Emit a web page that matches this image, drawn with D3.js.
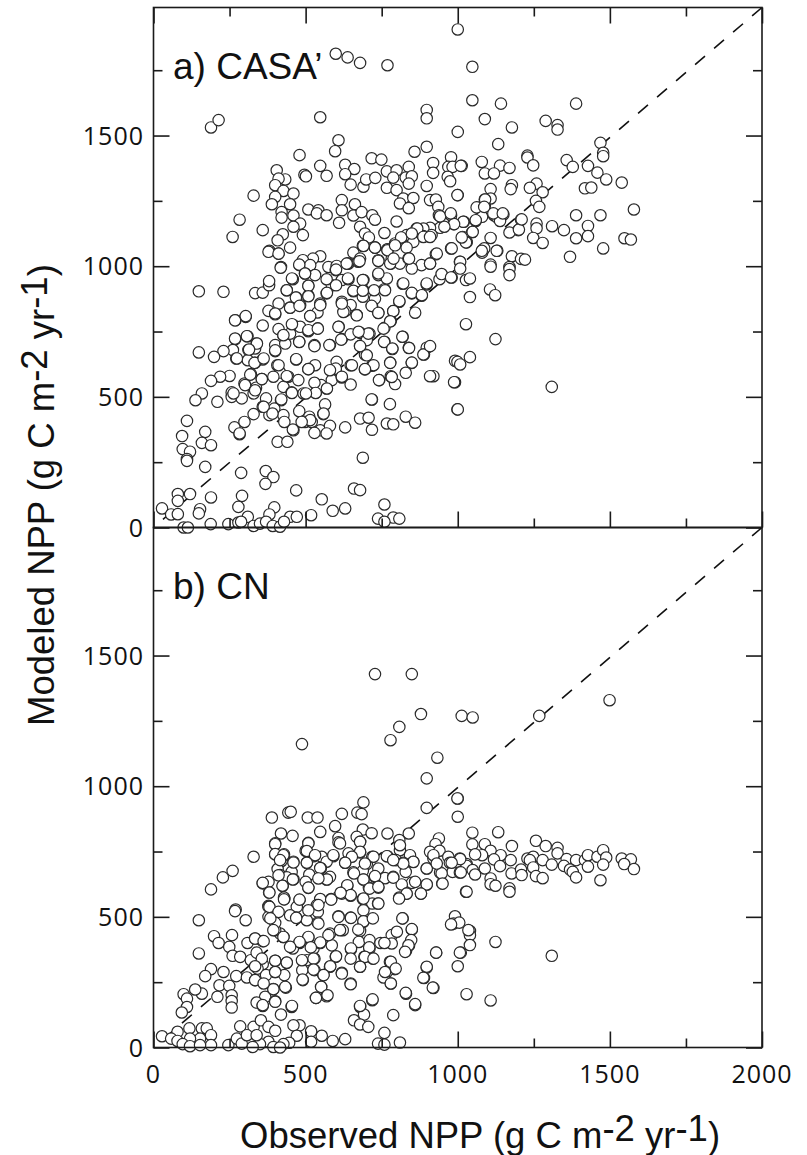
<!DOCTYPE html>
<html>
<head>
<meta charset="utf-8">
<script src="https://cdnjs.cloudflare.com/ajax/libs/d3/7.8.5/d3.min.js"></script>
<style>
  html, body { margin: 0; padding: 0; background: #fff; }
</style>
</head>
<body>
<script>
// tick values, shared by both panels
const majorX = [0, 500, 1000, 1500, 2000];
const minorX = [250, 750, 1250, 1750];
const majorY = [0, 500, 1000, 1500];
const minorY = [250, 750, 1250, 1750];

// panel a, [observed, modeled] in quarters
const casaTopLeft = [[1000,1906],[599,1813],[638,1799],[679,1778],[769,1769],[189,1531],[214,1559],[548,1570],[898,1598],[898,1566],[1000,1514],[608,1482],[597,1440],[898,1457],[858,1438],[480,1425],[717,1413],[749,1408],[978,1417],[919,1395],[405,1367],[548,1384],[630,1388],[660,1372],[630,1352],[569,1346],[496,1350],[501,1344],[433,1332],[411,1335],[400,1310],[648,1312],[690,1304],[699,1332],[729,1338],[767,1363],[799,1367],[839,1380],[788,1339],[829,1339],[849,1344],[839,1316],[767,1300],[799,1291],[919,1357],[969,1380],[983,1380],[1013,1384],[967,1342],[975,1325],[898,1307],[427,1288],[460,1278],[329,1270],[400,1265],[389,1237],[449,1237],[619,1253],[662,1237],[619,1214],[821,1259],[854,1261],[810,1240],[839,1222],[909,1253],[928,1255],[1000,1272],[421,1207],[421,1186],[460,1194],[509,1217],[542,1214],[537,1202],[569,1195],[657,1194],[684,1207],[719,1195],[728,1178],[610,1166],[799,1171],[283,1178],[482,1163],[359,1138],[460,1151],[260,1112],[491,1119],[425,1122],[408,1099],[679,1151],[695,1125],[708,1110],[759,1127],[936,1227],[938,1195],[978,1195],[987,1161],[1020,1170],[942,1147],[909,1147],[887,1144],[887,1115],[914,1119],[865,1144],[850,1125],[816,1110],[832,1119],[794,1087],[854,1093],[690,1077],[729,1071],[769,1065],[832,1071],[978,1068],[449,1071],[381,1059],[411,1048],[548,1038],[524,1029],[491,1023],[657,1052],[679,1029],[739,1023],[783,1029],[839,1029],[928,1046],[1007,1017],[1016,1112],[1029,1093],[419,997],[480,1004],[515,1004],[575,997],[602,1001],[641,1010],[673,1017],[780,1010],[810,1010],[881,1004],[909,1010]];
const casaTopRight = [[1048,1763],[1048,1635],[1142,1622],[1389,1622],[1089,1563],[1178,1531],[1289,1556],[1328,1540],[1328,1523],[1133,1467],[1469,1472],[1478,1434],[1478,1421],[1229,1423],[1229,1416],[1358,1406],[1378,1380],[1428,1384],[1248,1386],[1079,1399],[1139,1385],[1170,1376],[1089,1355],[1119,1355],[1010,1384],[1459,1358],[1488,1332],[1539,1320],[1259,1316],[1237,1300],[1279,1283],[1178,1310],[1174,1295],[1108,1295],[1418,1298],[1439,1301],[999,1272],[1108,1259],[1089,1255],[1089,1231],[1069,1223],[1257,1250],[1268,1227],[1579,1217],[1389,1195],[1469,1195],[1119,1195],[1150,1198],[1130,1186],[1139,1173],[1208,1178],[1080,1189],[1059,1173],[1018,1170],[1259,1163],[1259,1145],[1310,1153],[1349,1138],[1428,1154],[1428,1115],[1389,1107],[1199,1138],[1170,1129],[1048,1131],[1108,1108],[1018,1110],[1029,1091],[1248,1108],[1279,1089],[1548,1107],[1569,1102],[1478,1068],[1084,1064],[1080,1052],[1130,1059],[1178,1038],[1208,1028],[1221,1025],[1369,1036],[1008,1017],[1108,1006],[1170,997]];
const casaBottomRight = [[1108,998],[1008,991],[1170,989],[1170,966],[980,957],[1027,947],[1040,953],[1106,911],[1123,889],[1040,882],[1027,778],[1124,721],[991,638],[999,634],[1008,624],[1040,652],[991,556],[1309,538],[999,452]];
const casaBottomLeft = [[149,904],[230,902],[334,897],[359,899],[380,927],[380,943],[438,908],[458,950],[509,925],[469,880],[509,887],[449,842],[482,851],[411,857],[378,829],[400,816],[303,806],[269,793],[359,773],[411,759],[460,774],[482,768],[515,809],[539,823],[548,857],[569,896],[586,927],[531,966],[498,972],[569,950],[599,985],[619,947],[641,950],[690,947],[690,908],[657,904],[619,864],[648,851],[630,828],[668,813],[688,883],[718,848],[739,822],[728,876],[759,912],[739,966],[767,953],[819,933],[849,896],[881,887],[808,864],[788,828],[780,790],[759,764],[860,822],[898,930],[940,950],[947,970],[978,957],[609,768],[540,762],[509,751],[427,736],[309,732],[269,721],[339,704],[334,685],[312,679],[261,679],[230,675],[199,653],[149,670],[272,647],[310,640],[334,630],[359,643],[400,675],[400,698],[433,704],[479,711],[449,742],[529,698],[580,698],[619,721],[648,739],[679,745],[710,742],[679,695],[701,717],[759,711],[785,683],[819,730],[839,688],[898,688],[889,662],[849,630],[778,631],[718,619],[695,605],[695,662],[648,621],[599,605],[602,634],[531,621],[509,606],[469,643],[407,621],[416,593],[443,577],[394,577],[356,568],[320,587],[250,580],[219,577],[189,561],[159,513],[138,487],[210,481],[257,517],[257,500],[290,494],[299,551],[337,535],[329,513],[370,494],[427,538],[454,517],[419,487],[493,513],[534,517],[569,532],[551,545],[529,554],[586,564],[619,574],[648,547],[742,564],[780,579],[794,549],[829,592],[920,579],[988,556],[718,490],[777,472],[1000,452],[564,471],[558,434],[359,462],[329,434],[397,455],[479,445],[512,424],[427,430],[299,404],[381,430],[266,383],[283,357],[110,408],[94,350],[170,366],[159,324],[189,315],[96,300],[120,290],[110,262],[110,255],[430,404],[460,372],[498,404],[520,404],[548,372],[580,389],[529,362],[569,360],[630,383],[679,417],[707,420],[718,374],[767,398],[788,395],[829,424],[860,401],[408,328],[440,328],[688,267],[170,232],[288,209],[369,216],[394,193],[368,167],[469,142],[659,149],[679,143],[553,108],[80,128],[120,128],[189,115],[291,121],[80,102],[28,73],[58,50],[80,51],[153,70],[149,54],[279,79],[397,77],[310,41],[381,50],[449,41],[471,41],[518,47],[589,64],[630,73],[759,88],[738,34],[788,38],[808,34],[759,22],[188,13],[246,13],[279,19],[288,22],[329,6],[350,15],[370,22],[392,6],[416,3],[429,22],[99,0],[113,0]];
// second pass over the crowded middle of panel a
const casaDense = [[378,1055],[411,1048],[418,994],[479,1006],[498,972],[455,953],[509,925],[438,908],[468,880],[509,885],[449,841],[480,848],[570,898],[600,987],[637,1010],[677,1019],[688,1078],[728,1071],[769,1064],[739,1020],[778,1010],[838,1029],[639,953],[600,927],[688,947],[657,906],[688,906],[725,908],[761,908],[739,972],[849,991],[821,934],[849,898],[898,934],[882,889],[808,866],[717,848],[739,821],[788,828],[668,812],[624,825],[619,857],[548,851],[515,809],[400,819],[303,809],[268,793],[509,755],[540,761],[608,768],[778,789],[756,761],[706,742],[674,749],[455,778],[427,736],[307,732],[268,723],[479,710],[529,694],[578,698],[617,719],[679,694],[758,710],[818,730],[840,687],[785,685],[887,662],[909,694],[400,678],[340,704],[314,681],[274,647],[332,630],[362,647],[469,644],[701,659],[723,621],[652,621],[695,606],[599,608],[509,606],[411,621],[318,585],[356,568],[438,579],[476,564],[580,602],[619,577],[741,564],[778,630],[849,631],[783,576],[909,579],[533,515],[455,515],[501,513],[570,532],[263,513],[301,545],[334,525],[420,490],[362,462],[391,436],[559,436],[515,411],[487,404],[458,375],[283,360],[717,490],[867,1144],[814,1110],[849,1125],[887,1112],[909,1112],[728,1071],[769,1061],[794,1080],[690,1078],[635,1010],[789,1029],[840,1029],[909,1010],[931,1048],[980,1068],[1087,1068],[1128,1059],[1079,1059],[1027,1091],[1013,1110],[1049,1131],[1201,1140],[1210,1179],[1117,1202],[1148,1202],[1059,1176],[988,1161],[956,1151],[942,1191],[977,1202],[1062,1225],[1090,1255],[1087,1227]];

// panel b, same quarters
const cnTopLeft = [[728,1429],[849,1429],[879,1276],[1013,1269],[808,1227],[779,1176],[488,1161],[933,1109],[898,1030],[1000,953],[898,917],[1000,883],[690,938],[670,899],[684,893],[443,899],[451,902],[389,880],[507,880],[539,880],[619,894],[597,847],[548,825],[688,834],[717,820],[769,819],[839,819],[419,819],[457,810],[668,806],[608,802],[808,794],[938,800],[400,781],[509,783],[608,785],[679,787],[927,778],[329,730],[260,676],[228,651],[189,605],[400,739],[429,739],[500,753],[526,732],[553,730],[591,732],[641,743],[679,746],[719,730],[769,732],[810,755],[843,736],[909,749],[940,753],[969,730],[1007,723],[421,714],[460,711],[504,707],[569,711],[630,707],[701,702],[797,717],[821,707],[854,711],[920,723],[974,707],[1029,702],[408,683],[454,672],[550,686],[657,670],[688,676],[739,685],[829,672],[898,685],[942,670],[983,672],[1007,670],[416,660],[438,651],[460,644],[512,662],[580,653],[569,643],[690,643],[728,653],[761,648],[788,653],[849,630],[816,624],[898,624],[949,628],[359,628],[378,634],[425,619],[500,634],[509,611],[637,619],[708,611],[739,612],[380,593],[619,589],[648,581],[584,568],[548,568],[430,568],[480,564],[688,568],[719,551],[738,551],[808,574],[832,589],[879,589],[1027,596],[378,542],[270,528],[537,545],[471,538]];
const cnTopRight = [[1049,1263],[1268,1269],[1499,1329],[999,953],[1048,822],[1133,824],[1048,777],[1089,778],[1178,771],[1108,753],[1080,736],[1057,739],[1141,736],[1119,720],[1174,717],[1029,695],[1008,721],[980,707],[1049,679],[1010,670],[1089,685],[1139,694],[1057,662],[1108,647],[1177,666],[1208,681],[1210,660],[1229,723],[1248,730],[1237,717],[1257,791],[1289,771],[1328,764],[1328,743],[1279,717],[1248,689],[1309,700],[1358,721],[1389,717],[1349,695],[1369,681],[1378,672],[1418,717],[1428,736],[1459,730],[1478,755],[1488,727],[1428,692],[1478,700],[1539,723],[1569,720],[1547,702],[1579,683],[1389,651],[1469,640],[1257,656],[1279,648],[1108,625],[1124,619],[1170,609],[1170,596],[1029,596]];
const cnBottomLeft = [[268,522],[303,487],[149,487],[199,426],[214,400],[258,430],[309,400],[334,417],[359,407],[249,385],[260,351],[285,347],[149,360],[320,334],[339,363],[359,319],[342,302],[189,300],[230,289],[170,273],[272,273],[307,268],[217,238],[249,236],[334,258],[370,277],[400,332],[400,289],[438,324],[430,277],[435,229],[394,224],[367,194],[339,172],[359,159],[400,177],[454,155],[419,126],[257,200],[257,178],[257,153],[210,194],[159,206],[137,222],[99,204],[110,187],[110,155],[93,134],[491,258],[529,296],[529,340],[504,334],[489,296],[558,277],[619,286],[551,232],[569,196],[534,190],[648,245],[679,309],[599,347],[580,309],[649,376],[526,379],[586,391],[548,400],[480,400],[427,423],[458,379],[416,436],[400,449],[378,538],[378,500],[400,477],[429,574],[469,497],[504,487],[540,519],[540,478],[509,420],[608,502],[648,497],[622,449],[580,436],[690,481],[679,446],[675,404],[710,411],[710,379],[693,347],[721,340],[746,400],[783,430],[819,494],[849,451],[840,391],[830,369],[777,328],[793,300],[767,289],[780,245],[756,268],[929,363],[898,306],[889,266],[920,228],[830,206],[860,162],[719,181],[679,155],[692,126],[659,104],[679,88],[706,79],[788,124],[759,56],[738,15],[759,11],[810,19],[630,32],[589,25],[553,45],[518,62],[518,22],[480,85],[460,85],[471,45],[446,18],[427,13],[285,81],[329,79],[353,104],[378,79],[400,64],[378,22],[350,13],[326,2],[394,2],[416,0],[246,9],[274,34],[290,15],[307,47],[339,47],[118,73],[159,73],[175,73],[189,47],[189,9],[153,34],[120,34],[79,60],[28,43],[58,34],[79,25],[96,13],[120,5],[153,9]];
const cnBottomRight = [[991,502],[986,474],[1005,478],[1040,446],[1040,430],[1040,392],[1124,404],[1010,363],[1309,351],[1000,311],[1029,204],[1108,180],[978,471],[1035,449],[1007,363]];
// second pass over the crowded middle of panel b
const cnDense = [[400,778],[509,781],[613,781],[679,787],[400,740],[427,736],[504,752],[531,736],[591,736],[679,749],[652,730],[723,730],[767,732],[810,774],[854,710],[821,704],[788,717],[920,736],[898,685],[947,666],[931,704],[416,717],[460,708],[504,707],[548,687],[630,707],[695,704],[570,643],[659,666],[728,656],[788,650],[860,634],[898,624],[950,627],[411,659],[458,643],[424,619],[359,630],[381,593],[509,612],[542,647],[690,643],[637,621],[710,608],[739,615],[832,589],[879,589],[807,570],[648,583],[615,592],[584,566],[690,570],[739,551],[429,567],[480,566],[381,538],[542,545],[690,525],[509,525],[449,506],[469,496],[411,519],[384,494],[542,474],[608,500],[649,496],[690,483],[721,494],[818,494],[849,453],[800,443],[847,411],[838,391],[827,366],[783,398],[759,400],[709,383],[649,379],[613,449],[673,451],[575,430],[509,423],[548,402],[480,404],[427,423],[394,449],[334,417],[362,407],[449,385],[517,383],[600,349],[648,340],[695,347],[723,340],[679,309],[581,311],[526,340],[488,334],[400,332],[438,325],[356,340],[334,311],[400,289],[526,298],[559,277],[619,283],[648,242],[490,260],[433,232],[394,223],[334,258],[362,245],[551,232],[534,190],[572,200],[400,175],[359,162],[455,159],[679,159],[720,184],[829,209],[860,166],[780,328],[796,302],[761,289],[780,245],[898,309],[887,267],[918,229],[929,363]];

const casaPoints = [...casaTopLeft, ...casaTopRight, ...casaBottomRight, ...casaBottomLeft, ...casaDense];
const cnPoints = [...cnTopLeft, ...cnTopRight, ...cnBottomLeft, ...cnBottomRight, ...cnDense];

const left = 153.5, right = 762;
const fontTick = "'Open Sans', sans-serif";
const fontTitle = "'Liberation Sans', Arial, sans-serif";
const ink = "#1a1a1a";

const svg = d3.select("body").append("svg")
    .attr("width", 807)
    .attr("height", 1155)
    .style("display", "block");

const x = d3.scaleLinear().domain([0, 2000]).range([left, right]);

// tick labels are drawn only on the left, and on the bottom of panel b
function drawPanel(points, top, bottom, name, isBottom) {
    const y = d3.scaleLinear().domain([0, 1990]).range([bottom, top]);
    const g = svg.append("g");

    // dashed 1:1 line goes under the circles, dashes start at the top right corner
    g.append("line")
        .attr("x1", x(2000)).attr("y1", y(1990))
        .attr("x2", x(0)).attr("y2", y(0))
        .attr("stroke", "#111")
        .attr("stroke-width", 1.6)
        .attr("stroke-dasharray", "13 12");

    g.append("g").selectAll("circle")
        .data(points)
        .join("circle")
        .attr("cx", d => x(d[0]))
        .attr("cy", d => y(d[1]))
        .attr("r", 5.7)
        .attr("fill", "#fff")
        .attr("stroke", "#2a2a2a")
        .attr("stroke-width", 1.2);

    // major and minor ticks, all pointing inward
    const axes = [
        [d3.axisLeft(y), left, 0, majorY, minorY],
        [d3.axisRight(y), right, 0, majorY, minorY],
        [d3.axisBottom(x), 0, bottom, majorX, minorX]
    ];
    if (!isBottom) axes.push([d3.axisTop(x), 0, top, majorX, minorX]);

    axes.forEach(([axis, tx, ty, major, minor]) => {
        [[major, 16], [minor, 9]].forEach(([values, len]) => {
            const a = g.append("g")
                .attr("transform", `translate(${tx},${ty})`)
                .call(axis.tickValues(values).tickSize(-len).tickFormat(""));
            a.select(".domain").remove();
            a.selectAll("line").attr("stroke", ink).attr("stroke-width", 1.6);
        });
    });

    g.append("rect")
        .attr("x", left).attr("y", top)
        .attr("width", right - left).attr("height", bottom - top)
        .attr("fill", "none")
        .attr("stroke", ink)
        .attr("stroke-width", 1.6);

    // y tick labels
    g.selectAll(".ylab")
        .data(majorY)
        .join("text")
        .attr("class", "ylab")
        .attr("x", 144)
        .attr("y", d => y(d) + 9)
        .attr("text-anchor", "end")
        .style("font-family", fontTick)
        .style("font-size", "25px")
        .style("letter-spacing", "1px")
        .attr("fill", "#111")
        .text(d => d);

    g.append("text")
        .attr("x", 173)
        .attr("y", top + 71)
        .style("font-family", fontTitle)
        .style("font-size", "37px")
        .attr("fill", "#111")
        .text(name);

    return y;
}

drawPanel(casaPoints, 7.5, 527.5, "a) CASA’", false);
drawPanel(cnPoints, 527.5, 1047.5, "b) CN", true);

svg.selectAll(".xlab")
    .data(majorX)
    .join("text")
    .attr("class", "xlab")
    .attr("x", d => x(d))
    .attr("y", 1083)
    .attr("text-anchor", "middle")
    .style("font-family", fontTick)
    .style("font-size", "25px")
    .style("letter-spacing", "1px")
    .attr("fill", "#111")
    .text(d => d);

// axis titles, the exponents are raised with tspans
function addTitle(el, start) {
    el.style("font-family", fontTitle)
        .style("font-size", "36.5px")
        .attr("fill", "#111");
    el.append("tspan").text(start + " (g C m");
    el.append("tspan").attr("dy", -7).text("-2");
    el.append("tspan").attr("dy", 7).text(" yr");
    el.append("tspan").attr("dy", -7).text("-1");
    el.append("tspan").attr("dy", 7).text(")");
}

addTitle(svg.append("text").attr("x", 240).attr("y", 1148), "Observed NPP");
addTitle(svg.append("text").attr("transform", "translate(54,726) rotate(-90)"), "Modeled NPP");
</script>
</body>
</html>
